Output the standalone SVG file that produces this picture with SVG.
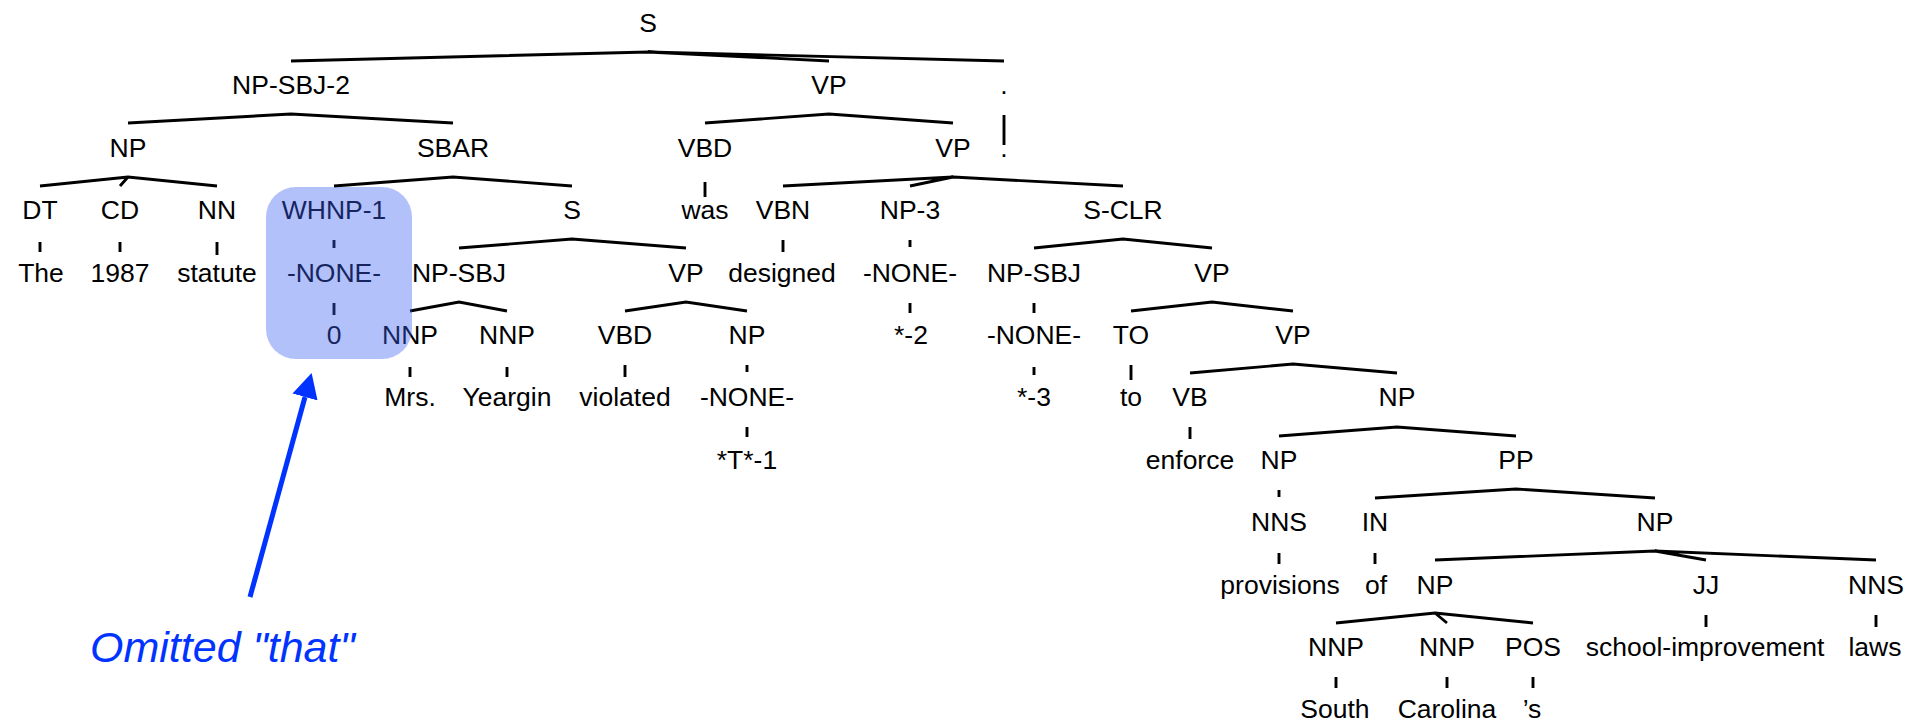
<svg xmlns="http://www.w3.org/2000/svg" width="1907" height="721" viewBox="0 0 1907 721">
  <style>
    .lbl { font-family: "Liberation Sans", Arial, sans-serif; font-size: 26.5px; fill: #000; text-anchor: middle; }
    .edge { stroke: #000; stroke-width: 2.9; fill: none; stroke-linecap: butt; }
    .note { font-family: "Liberation Sans", Arial, sans-serif; font-size: 43px; font-style: italic; fill: #0033ff; }
  </style>
  <defs>
    <marker id="head" viewBox="0 0 25 26" refX="0" refY="13" markerWidth="25" markerHeight="26" markerUnits="userSpaceOnUse" orient="auto">
      <path d="M0,0 L25,13 L0,26 Z" fill="#0033ff"/>
    </marker>
  </defs>
  <rect width="1907" height="721" fill="#fff"/>

  <!-- tree edges -->
  <g id="connectors" class="edge">
    <!-- S -->
    <path d="M291,61 L648,52 L829,61 M648,52 L1004,61"/>
    <!-- NP-SBJ-2, VP -->
    <path d="M128,123 L291,114 L453,123"/>
    <path d="M705,123 L829,114 L953,123"/>
    <path d="M1004,115 V145"/>
    <!-- NP, SBAR, VBD, VP -->
    <path d="M40,186 L128,177 L217,186 M128,177 L120,186"/>
    <path d="M334,186 L453,177 L572,186"/>
    <path d="M705,182 V197"/>
    <path d="M783,186 L953,177 L1123,186 M953,177 L910,186"/>
    <!-- row 3 -->
    <path d="M40,242 V252 M120,242 V252 M217,242 V255"/>
    <path d="M334,240 V248"/>
    <path d="M459,248 L572,239 L686,248"/>
    <path d="M783,240 V252 M910,240 V247"/>
    <path d="M1034,248 L1123,239 L1212,248"/>
    <!-- row 4 -->
    <path d="M334,303 V315"/>
    <path d="M410,311 L459,302 L507,311"/>
    <path d="M625,311 L686,302 L747,311"/>
    <path d="M910,303 V313 M1034,303 V313"/>
    <path d="M1131,311 L1212,302 L1293,311"/>
    <!-- row 5 -->
    <path d="M410,367 V377 M507,367 V377"/>
    <path d="M625,365 V377 M747,365 V372"/>
    <path d="M1034,367 V375 M1131,365 V380"/>
    <path d="M1190,373 L1293,364 L1397,373"/>
    <!-- row 6 -->
    <path d="M747,427 V437 M1190,427 V439"/>
    <path d="M1279,436 L1397,427 L1516,436"/>
    <!-- row 7 -->
    <path d="M1279,490 V497"/>
    <path d="M1375,498 L1516,489 L1655,498"/>
    <!-- row 8 -->
    <path d="M1279,553 V564 M1375,553 V564"/>
    <path d="M1435,560 L1655,551 L1876,560 M1655,551 L1706,560"/>
    <!-- row 9 -->
    <path d="M1706,615 V627 M1876,615 V627"/>
    <path d="M1336,623 L1435,613 L1533,623 M1435,613 L1447,623"/>
    <!-- row 10 -->
    <path d="M1336,677 V688 M1447,677 V688 M1533,677 V688"/>
  </g>

  <!-- row 0 -->
  <g id="n-s-root"><text class="lbl" x="648" y="32">S</text></g>
  <!-- row 1 -->
  <g id="n-np-sbj-2"><text class="lbl" x="291" y="94.4">NP-SBJ-2</text></g>
  <g id="n-vp-main"><text class="lbl" x="829" y="94.4">VP</text></g>
  <g id="n-period-tag"><text class="lbl" x="1004" y="94.4">.</text></g>
  <!-- row 2 -->
  <g id="n-np-head"><text class="lbl" x="128" y="156.8">NP</text></g>
  <g id="n-sbar"><text class="lbl" x="453" y="156.8">SBAR</text></g>
  <g id="n-vbd-was"><text class="lbl" x="705" y="156.8">VBD</text></g>
  <g id="n-vp-pass"><text class="lbl" x="953" y="156.8">VP</text></g>
  <g id="n-period-word"><text class="lbl" x="1004" y="156.8">.</text></g>
  <!-- row 3 -->
  <g id="n-dt"><text class="lbl" x="40" y="219.2">DT</text></g>
  <g id="n-cd"><text class="lbl" x="120" y="219.2">CD</text></g>
  <g id="n-nn"><text class="lbl" x="217" y="219.2">NN</text></g>
  <g id="n-whnp-1"><text class="lbl" x="334" y="219.2">WHNP-1</text></g>
  <g id="n-s-rel"><text class="lbl" x="572" y="219.2">S</text></g>
  <g id="w-was"><text class="lbl" x="705" y="219.2">was</text></g>
  <g id="n-vbn"><text class="lbl" x="783" y="219.2">VBN</text></g>
  <g id="n-np-3"><text class="lbl" x="910" y="219.2">NP-3</text></g>
  <g id="n-s-clr"><text class="lbl" x="1123" y="219.2">S-CLR</text></g>
  <!-- row 4 -->
  <g id="w-the"><text class="lbl" x="41" y="281.6">The</text></g>
  <g id="w-1987"><text class="lbl" x="120" y="281.6">1987</text></g>
  <g id="w-statute"><text class="lbl" x="217" y="281.6">statute</text></g>
  <g id="n-none-wh"><text class="lbl" x="334" y="281.6">-NONE-</text></g>
  <g id="n-np-sbj-rel"><text class="lbl" x="459" y="281.6">NP-SBJ</text></g>
  <g id="n-vp-rel"><text class="lbl" x="686" y="281.6">VP</text></g>
  <g id="w-designed"><text class="lbl" x="782" y="281.6">designed</text></g>
  <g id="n-none-np3"><text class="lbl" x="910" y="281.6">-NONE-</text></g>
  <g id="n-np-sbj-clr"><text class="lbl" x="1034" y="281.6">NP-SBJ</text></g>
  <g id="n-vp-clr"><text class="lbl" x="1212" y="281.6">VP</text></g>
  <!-- row 5 -->
  <g id="w-zero"><text class="lbl" x="334" y="344">0</text></g>
  <g id="n-nnp-mrs"><text class="lbl" x="410" y="344">NNP</text></g>
  <g id="n-nnp-yeargin"><text class="lbl" x="507" y="344">NNP</text></g>
  <g id="n-vbd-violated"><text class="lbl" x="625" y="344">VBD</text></g>
  <g id="n-np-obj"><text class="lbl" x="747" y="344">NP</text></g>
  <g id="w-star-2"><text class="lbl" x="911" y="344">*-2</text></g>
  <g id="n-none-clr"><text class="lbl" x="1034" y="344">-NONE-</text></g>
  <g id="n-to"><text class="lbl" x="1131" y="344">TO</text></g>
  <g id="n-vp-enforce"><text class="lbl" x="1293" y="344">VP</text></g>
  <!-- row 6 -->
  <g id="w-mrs"><text class="lbl" x="410" y="406.4">Mrs.</text></g>
  <g id="w-yeargin"><text class="lbl" x="507" y="406.4">Yeargin</text></g>
  <g id="w-violated"><text class="lbl" x="625" y="406.4">violated</text></g>
  <g id="n-none-obj"><text class="lbl" x="747" y="406.4">-NONE-</text></g>
  <g id="w-star-3"><text class="lbl" x="1034" y="406.4">*-3</text></g>
  <g id="w-to"><text class="lbl" x="1131" y="406.4">to</text></g>
  <g id="n-vb"><text class="lbl" x="1190" y="406.4">VB</text></g>
  <g id="n-np-provisions"><text class="lbl" x="1397" y="406.4">NP</text></g>
  <!-- row 7 -->
  <g id="w-trace-1"><text class="lbl" x="747" y="468.8">*T*-1</text></g>
  <g id="w-enforce"><text class="lbl" x="1190" y="468.8">enforce</text></g>
  <g id="n-np-nns"><text class="lbl" x="1279" y="468.8">NP</text></g>
  <g id="n-pp"><text class="lbl" x="1516" y="468.8">PP</text></g>
  <!-- row 8 -->
  <g id="n-nns-provisions"><text class="lbl" x="1279" y="531.2">NNS</text></g>
  <g id="n-in"><text class="lbl" x="1375" y="531.2">IN</text></g>
  <g id="n-np-laws"><text class="lbl" x="1655" y="531.2">NP</text></g>
  <!-- row 9 -->
  <g id="w-provisions"><text class="lbl" x="1280" y="593.6">provisions</text></g>
  <g id="w-of"><text class="lbl" x="1376" y="593.6">of</text></g>
  <g id="n-np-poss"><text class="lbl" x="1435" y="593.6">NP</text></g>
  <g id="n-jj"><text class="lbl" x="1706" y="593.6">JJ</text></g>
  <g id="n-nns-laws"><text class="lbl" x="1876" y="593.6">NNS</text></g>
  <!-- row 10 -->
  <g id="n-nnp-south"><text class="lbl" x="1336" y="656">NNP</text></g>
  <g id="n-nnp-carolina"><text class="lbl" x="1447" y="656">NNP</text></g>
  <g id="n-pos"><text class="lbl" x="1533" y="656">POS</text></g>
  <g id="w-school"><text class="lbl" x="1705" y="656">school-improvement</text></g>
  <g id="w-laws"><text class="lbl" x="1875" y="656">laws</text></g>
  <!-- row 11 -->
  <g id="w-south"><text class="lbl" x="1335" y="718.4">South</text></g>
  <g id="w-carolina"><text class="lbl" x="1447" y="718.4">Carolina</text></g>
  <g id="w-apos-s"><text class="lbl" x="1532" y="718.4">’s</text></g>

  <!-- translucent highlight over the empty complementizer -->
  <g id="highlight">
    <rect x="266" y="187" width="146" height="172" rx="30" ry="30" fill="#3c60f5" fill-opacity="0.39"/>
  </g>

  <!-- annotation -->
  <g id="annotation">
    <line x1="250" y1="597" x2="305" y2="397" stroke="#0033ff" stroke-width="5" marker-end="url(#head)"/>
    <text class="note" x="90" y="662">Omitted "that"</text>
  </g>
</svg>
